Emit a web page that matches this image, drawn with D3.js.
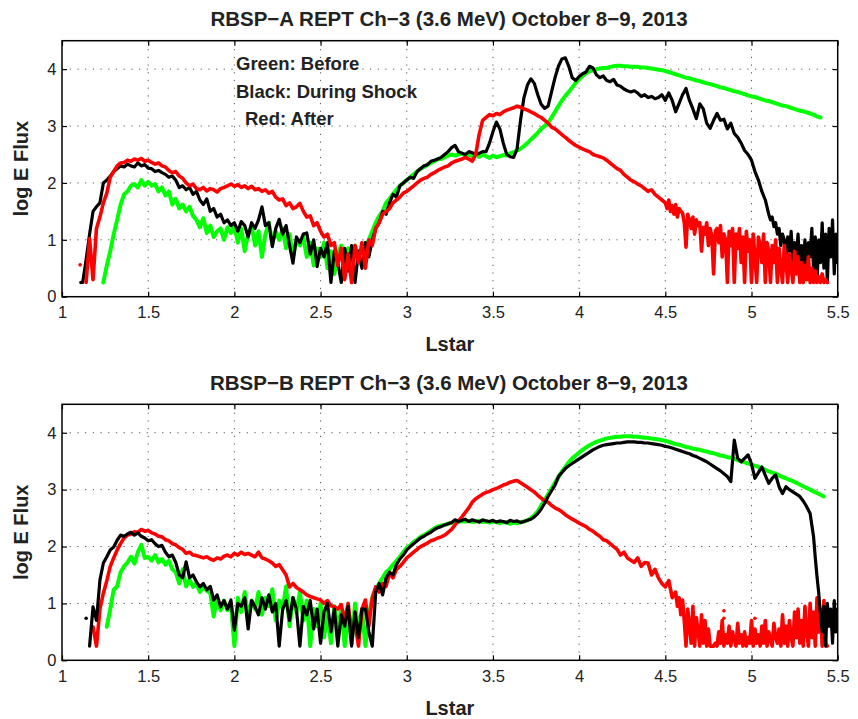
<!DOCTYPE html>
<html><head><meta charset="utf-8">
<script src="https://cdn.jsdelivr.net/npm/d3@7"></script>
<style>
body{margin:0;background:#fff}
svg{display:block}
text{font-family:"Liberation Sans",Arial,Helvetica,sans-serif;fill:#222}
</style>
</head><body>
<svg id="c" width="858" height="719"></svg>
<script>
// ---------- data ----------
const STEP = 0.02;        // Lstar sampling step of the main series
const STEP_FINE = 0.01;   // Lstar sampling step of the noisy tails
const lTicks = [1, 1.5, 2, 2.5, 3, 3.5, 4, 4.5, 5, 5.5];
const lTickLabels = ["1", "1.5", "2", "2.5", "3", "3.5", "4", "4.5", "5", "5.5"];
const fluxTicks = [0, 1, 2, 3, 4];
const titles = [
  "RBSP\u2212A REPT Ch\u22123 (3.6 MeV) October 8\u22129, 2013",
  "RBSP\u2212B REPT Ch\u22123 (3.6 MeV) October 8\u22129, 2013"
];
const legendLines = ["Green: Before", "Black: During Shock", "Red: After"];

// ===== RBSP-A =====
const greenAStart = 1.24;
const greenA = [
 0.25,0.55,0.8,1.1,1.35,1.62,1.8,1.85,1.95,1.98,
 1.92,2.05,1.95,2.02,1.95,1.98,1.85,1.92,1.78,1.85,
 1.62,1.72,1.55,1.62,1.5,1.58,1.42,1.35,1.22,1.38,
 1.12,1.25,1.05,1.15,1.2,1.0,1.22,1.12,1.25,0.95,
 1.2,0.8,1.1,1.25,0.9,1.15,0.7,1.1,1.3,0.95,
 1.15,1.0,1.2,0.85,1.1,0.7,1.0,0.9,1.05,0.7,
 0.95,0.55,0.85,0.7,0.95,0.5,0.8,0.4,0.75,0.9,
 0.5,0.85,0.6,0.9,0.7,0.55,0.85,1.0,1.15,1.3,
 1.42,1.5,1.65,1.72,1.8,1.88,1.95,2.0,2.05,2.1,
 2.15,2.2,2.25,2.28,2.32,2.35,2.38,2.42,2.42,2.45,
 2.48,2.5,2.48,2.5,2.52,2.48,2.5,2.47,2.5,2.46,
 2.5,2.47,2.44,2.48,2.45,2.47,2.49,2.48,2.52,2.54,
 2.57,2.6,2.65,2.7,2.76,2.82,2.88,2.95,3.0,3.06,
 3.15,3.25,3.35,3.45,3.53,3.6,3.68,3.76,3.82,3.88,
 3.93,3.96,3.98,4.0,4.01,4.02,4.02,4.04,4.05,4.06,
 4.06,4.05,4.05,4.04,4.04,4.04,4.03,4.03,4.02,4.01,
 4.0,3.99,3.98,3.97,3.95,3.93,3.91,3.89,3.87,3.85,
 3.84,3.82,3.8,3.79,3.77,3.75,3.74,3.72,3.70,3.68,
 3.67,3.65,3.63,3.61,3.6,3.58,3.56,3.54,3.52,3.51,
 3.49,3.47,3.45,3.44,3.42,3.4,3.38,3.36,3.35,3.33,
 3.31,3.29,3.27,3.26,3.24,3.22,3.2,3.17,3.15
];
const blackAStart = 1.12;
const blackA = [
 0.25,0.65,1.1,1.5,1.58,1.65,2.0,2.05,2.12,2.2,
 2.25,2.3,2.28,2.33,2.3,2.28,2.35,2.3,2.32,2.26,
 2.25,2.2,2.22,2.18,2.15,2.1,2.12,2.05,1.92,1.95,
 1.88,1.92,1.8,1.85,1.7,1.62,1.72,1.5,1.55,1.4,
 1.45,1.3,1.35,1.25,1.3,1.15,1.32,1.25,1.05,1.3,
 1.2,1.35,1.58,1.25,1.3,0.88,1.2,1.36,1.1,1.25,
 0.9,0.59,1.05,0.95,1.1,1.12,0.75,1.0,0.53,0.85,
 0.7,0.95,0.25,0.8,0.6,0.25,0.85,0.45,0.9,0.25,
 0.8,0.5,0.95,0.7,1.0,1.2,1.3,1.5,1.45,1.65,
 1.8,1.75,1.95,2.0,2.05,2.1,2.08,2.2,2.25,2.3,
 2.32,2.38,2.4,2.42,2.45,2.5,2.55,2.62,2.66,2.55,
 2.52,2.5,2.55,2.53,2.5,2.52,2.55,2.55,2.7,2.9,
 3.07,2.95,2.7,2.5,2.46,2.45,2.6,3.1,3.5,3.72,
 3.83,3.75,3.55,3.38,3.31,3.35,3.6,3.85,4.05,4.18,
 4.2,4.05,3.85,3.8,3.87,3.92,3.95,4.05,4.02,3.9,
 3.85,3.88,3.8,3.78,3.82,3.72,3.7,3.65,3.62,3.6,
 3.62,3.58,3.52,3.55,3.5,3.52,3.48,3.5,3.55,3.45,
 3.58,3.45,3.25,3.4,3.55,3.66,3.45,3.3,3.13,3.39,
 3.3,3.05,2.96,3.1,3.22,3.1,3.12,2.95,3.05,2.87,
 2.8,2.7,2.57,2.5,2.4,2.2,2.05,1.85,1.7
];
const blackATailStart = 5.10;
const blackATail = [
 1.45,1.35,1.4,1.23,1.3,1.1,1.2,0.9,1.1,1.0,
 0.7,1.05,0.8,1.15,0.55,0.95,0.7,1.1,0.5,0.9,
 0.6,1.0,0.35,0.95,0.7,1.2,0.45,1.05,0.25,1.0,
 0.6,1.3,0.5,1.1,0.25,1.2,0.7,1.35,0.4,1.1,
 0.6
];
const redAStart = 1.14;
const redA = [
 0.25,1.02,0.3,1.2,1.4,1.65,1.82,2.1,2.2,2.3,
 2.35,2.36,2.4,2.38,2.42,2.4,2.43,2.38,2.4,2.36,
 2.33,2.35,2.3,2.28,2.22,2.18,2.2,2.12,2.08,2.0,
 1.95,1.98,1.9,1.88,1.92,1.86,1.9,1.88,1.84,1.9,
 1.92,1.95,1.98,1.94,1.97,1.92,1.95,1.9,1.94,1.88,
 1.9,1.85,1.88,1.82,1.85,1.75,1.7,1.72,1.6,1.65,
 1.55,1.58,1.64,1.5,1.4,1.42,1.25,1.3,1.15,1.05,
 1.1,0.9,0.95,0.55,0.85,0.3,0.75,0.25,0.9,0.6,
 0.95,0.5,1.0,0.9,1.2,1.3,1.45,1.5,1.55,1.65,
 1.7,1.75,1.82,1.85,1.9,1.95,2.0,2.05,2.08,2.1,
 2.15,2.18,2.22,2.25,2.28,2.3,2.35,2.38,2.4,2.42,
 2.45,2.42,2.38,2.5,2.85,3.1,3.15,3.2,3.18,3.22,
 3.2,3.25,3.28,3.3,3.32,3.35,3.33,3.3,3.28,3.25,
 3.22,3.18,3.15,3.1,3.05,2.98,2.95,2.9,2.85,2.8,
 2.75,2.7,2.66,2.63,2.6,2.57,2.55,2.5,2.48,2.46,
 2.44,2.4,2.35,2.3,2.25,2.22,2.15,2.1,2.05,2.02,
 1.98,1.95,1.9,1.85,1.88,1.8,1.75,1.7
];
const redATailStart = 4.50;
const redATail = [
 1.65,1.55,1.7,1.5,1.6,1.45,1.62,1.4,1.55,1.5,
 1.47,1.3,0.87,1.45,1.35,1.2,1.4,1.1,1.35,1.25,
 1.3,0.8,1.22,1.1,1.3,0.9,1.2,1.05,0.4,1.15,
 1.2,0.95,1.25,0.7,1.1,1.0,0.25,1.15,0.9,1.2,
 0.25,1.1,0.85,1.2,0.6,1.05,0.25,1.15,0.8,1.0,
 0.25,1.1,0.7,0.25,1.05,0.9,0.6,1.1,0.25,0.95,
 0.8,0.25,0.9,0.6,1.0,0.25,0.85,0.5,0.25,0.9,
 0.6,0.25,0.75,0.5,0.25,0.8,0.4,0.7,0.25,0.6,
 0.25,0.55,0.3,0.7,0.25,0.5,0.25,0.45,0.25,0.35,
 0.25,0.4,0.25,0.3,0.25
];
const dotsA = [ {L:1.11, v:0.25, c:"#000000"}, {L:1.105, v:0.56, c:"#ff0000"} ];

// ===== RBSP-B =====
const greenBStart = 1.26;
const greenB = [
 0.59,0.9,1.24,1.3,1.55,1.65,1.72,1.82,1.7,1.9,
 2.03,1.8,1.82,1.75,1.85,1.72,1.78,1.68,1.75,1.6,
 1.55,1.35,1.6,1.3,1.42,1.29,1.35,1.2,1.3,1.22,
 1.18,0.77,1.1,0.88,1.05,0.88,1.0,0.25,1.1,0.85,
 1.2,0.75,1.05,0.9,1.2,0.8,1.1,0.95,1.25,0.7,
 1.05,0.9,1.3,0.6,1.1,0.85,1.2,0.7,1.05,0.25,
 0.9,0.6,1.0,0.4,0.85,0.3,0.95,0.55,0.9,0.25,
 0.8,0.3,1.0,0.5,0.9,0.25,0.8,1.1,1.25,1.35,
 1.45,1.55,1.6,1.68,1.75,1.82,1.9,1.98,2.02,2.08,
 2.12,2.17,2.2,2.24,2.28,2.32,2.35,2.37,2.38,2.4,
 2.42,2.44,2.43,2.45,2.44,2.45,2.43,2.44,2.45,2.43,
 2.44,2.42,2.44,2.43,2.41,2.43,2.42,2.4,2.42,2.41,
 2.43,2.44,2.46,2.5,2.55,2.62,2.72,2.82,2.92,3.02,
 3.12,3.22,3.32,3.4,3.48,3.55,3.6,3.65,3.7,3.74,
 3.78,3.81,3.84,3.86,3.88,3.9,3.91,3.92,3.93,3.93,
 3.94,3.94,3.94,3.93,3.93,3.92,3.91,3.91,3.9,3.89,
 3.88,3.87,3.86,3.84,3.82,3.8,3.79,3.77,3.75,3.74,
 3.72,3.71,3.7,3.68,3.67,3.65,3.64,3.62,3.6,3.59,
 3.57,3.56,3.54,3.52,3.5,3.48,3.46,3.44,3.42,3.4,
 3.37,3.35,3.32,3.3,3.28,3.25,3.22,3.2,3.17,3.15,
 3.12,3.09,3.06,3.03,3.0,2.97,2.94,2.91,2.88
];
const blackBStart = 1.16;
const blackB = [
 0.25,0.94,0.7,1.41,1.71,1.82,1.94,1.99,2.11,2.2,
 2.18,2.22,2.25,2.2,2.24,2.18,2.15,2.1,2.12,2.05,
 2.0,2.02,1.9,1.82,1.85,1.72,1.5,1.45,1.73,1.45,
 1.5,1.38,1.29,1.35,1.24,1.3,1.06,1.15,0.94,1.05,
 0.9,1.06,0.53,1.0,0.95,1.1,0.55,1.05,0.94,0.8,
 1.1,0.9,1.15,0.85,1.0,0.25,0.9,1.05,0.7,1.1,
 0.9,0.25,0.95,0.8,1.05,0.55,0.9,0.3,0.85,1.0,
 0.5,0.9,0.25,0.8,0.6,0.95,0.25,0.85,0.4,0.9,
 0.9,0.5,0.25,1.2,1.35,1.15,1.45,1.55,1.5,1.68,
 1.78,1.85,1.94,2.0,2.05,2.1,2.15,2.18,2.22,2.25,
 2.3,2.33,2.35,2.38,2.4,2.42,2.47,2.44,2.46,2.48,
 2.44,2.47,2.45,2.43,2.47,2.45,2.44,2.46,2.43,2.45,
 2.44,2.42,2.46,2.44,2.45,2.42,2.44,2.46,2.48,2.52,
 2.58,2.66,2.76,2.88,2.98,3.08,3.23,3.3,3.37,3.42,
 3.46,3.5,3.54,3.58,3.62,3.66,3.7,3.73,3.76,3.78,
 3.79,3.8,3.81,3.82,3.82,3.83,3.84,3.84,3.84,3.83,
 3.83,3.82,3.82,3.81,3.8,3.79,3.78,3.76,3.75,3.73,
 3.71,3.69,3.67,3.65,3.63,3.6,3.58,3.55,3.52,3.49,
 3.45,3.41,3.37,3.33,3.28,3.23,3.14,3.87,3.55,3.49,
 3.55,3.61,3.45,3.2,3.3,3.4,3.25,3.11,3.2,3.26,
 3.05,2.93,3.05,3.0,2.96,2.92,2.88,2.8,2.7,2.58
];
const blackBTailStart = 5.36;
const blackBTail = [2.17,1.8,1.47,1.18,0.8,0.5,0.95,0.25,1.0,0.6,0.9,0.3,1.05,0.5,0.9];
const redBStart = 1.18;
const redB = [
 0.59,0.25,0.9,1.18,1.4,1.65,1.8,1.94,2.05,2.15,
 2.2,2.22,2.26,2.25,2.3,2.27,2.28,2.24,2.22,2.18,
 2.17,2.12,2.1,2.05,2.03,1.98,1.95,1.88,1.9,1.85,
 1.84,1.82,1.8,1.82,1.78,1.76,1.8,1.78,1.83,1.85,
 1.82,1.88,1.85,1.9,1.86,1.88,1.85,1.82,1.9,1.8,
 1.78,1.75,1.71,1.65,1.68,1.59,1.5,1.29,1.35,1.28,
 1.24,1.2,1.15,1.12,1.1,1.08,1.06,1.0,1.05,0.96,
 0.94,0.9,0.98,0.7,1.0,0.5,0.65,0.25,0.9,1.06,
 0.6,1.1,1.29,1.2,1.35,1.3,1.53,1.45,1.6,1.65,
 1.72,1.8,1.85,1.9,1.95,2.0,2.03,2.06,2.1,2.12,
 2.15,2.17,2.2,2.25,2.3,2.38,2.45,2.52,2.6,2.68,
 2.78,2.84,2.88,2.92,2.95,2.97,3.0,3.02,3.05,3.08,
 3.1,3.13,3.15,3.16,3.12,3.08,3.04,3.0,2.96,2.9,
 2.85,2.8,2.78,2.72,2.68,2.65,2.61,2.56,2.52,2.48,
 2.45,2.41,2.38,2.35,2.3,2.27,2.22,2.18,2.12,2.1,
 2.05,2.0,1.95,1.85,1.9,1.8,1.76,1.72,1.8,1.65,
 1.72,1.71,1.5,1.6,1.45,1.35,1.29,1.4,1.1
];
const redBTailStart = 4.56;
const redBTail = [
 1.2,0.95,1.1,0.8,1.06,0.7,0.25,0.9,0.6,0.3,
 0.95,0.25,0.75,0.5,0.25,0.8,0.3,0.7,0.25,0.55,
 0.25,0.25,0.25,0.3,0.25,0.5,0.3,0.7,0.25,0.45,
 0.3,0.6,0.25,0.5,0.35,0.25,0.65,0.3,0.45,0.25,
 0.5,0.25,0.4,0.3,0.7,0.25,0.55,0.3,0.45,0.25,
 0.6,0.3,0.7,0.25,0.5,0.35,0.25,0.65,0.4,0.3,
 0.55,0.25,0.8,0.3,0.6,0.25,0.7,0.4,0.25,0.85,
 0.4,0.9,0.3,0.7,0.25,0.95,0.5,0.25,1.0,0.4,
 0.85,0.25,1.1,0.5,0.9,0.25,1.05,0.3,0.25
];
const dotsB = [ {L:1.14, v:0.74, c:"#000000"}, {L:4.84, v:0.87, c:"#ff0000"},
                {L:4.84, v:0.74, c:"#ff0000"}, {L:5.02, v:0.74, c:"#ff0000"} ];

// ---------- layout ----------
const GREEN = "#00ff00", BLACK = "#000000", RED = "#ff0000";
const seg = (start, step, v) => ({ start, step, v });
const panels = [
  { title: titles[0], top: 40.7, bottom: 296.7, titleY: 26, xlabY: 351, legend: true,
    series: [ {segs: [seg(greenAStart, STEP, greenA)], c: GREEN, w: 4.0},
              {segs: [seg(blackAStart, STEP, blackA), seg(blackATailStart, STEP_FINE, blackATail)], c: BLACK, w: 3.2},
              {segs: [seg(redAStart, STEP, redA), seg(redATailStart, STEP_FINE, redATail)], c: RED, w: 3.6} ],
    dots: dotsA },
  { title: titles[1], top: 404.3, bottom: 660.3, titleY: 390, xlabY: 715, legend: false,
    series: [ {segs: [seg(greenBStart, STEP, greenB)], c: GREEN, w: 4.0},
              {segs: [seg(redBStart, STEP, redB), seg(redBTailStart, STEP_FINE, redBTail)], c: RED, w: 3.6},
              {segs: [seg(blackBStart, STEP, blackB), seg(blackBTailStart, STEP_FINE, blackBTail)], c: BLACK, w: 3.2} ],
    dots: dotsB }
];
const X0 = 62, X1 = 837.7;
const svg = d3.select("#c");
const x = d3.scaleLinear().domain([1, 5.5]).range([X0, X1]);

panels.forEach((p, pi) => {
  const y = d3.scaleLinear().domain([0, 4.5]).range([p.bottom, p.top]);
  const g = svg.append("g");

  // grid (dotted)
  const grid = g.append("g").attr("stroke", "#555").attr("stroke-width", 1)
    .attr("stroke-dasharray", "1.2,6.5");
  lTicks.slice(1, -1).forEach(t => grid.append("line")
    .attr("x1", x(t)).attr("x2", x(t)).attr("y1", p.bottom).attr("y2", p.top));
  fluxTicks.slice(1).forEach(t => grid.append("line")
    .attr("x1", X0).attr("x2", X1).attr("y1", y(t)).attr("y2", y(t)));

  // clip
  const cid = "clip" + pi;
  svg.append("clipPath").attr("id", cid).append("rect")
    .attr("x", X0).attr("y", p.top).attr("width", X1 - X0).attr("height", p.bottom - p.top);

  const line = d3.line().x(d => x(d.L)).y(d => y(d.v));
  const lg = g.append("g").attr("clip-path", `url(#${cid})`);
  p.series.forEach(s => {
    const pts = s.segs.flatMap(sg => sg.v.map((v, i) => ({ L: sg.start + i * sg.step, v })));
    lg.append("path").datum(pts).attr("d", line)
      .attr("fill", "none").attr("stroke", s.c).attr("stroke-width", s.w)
      .attr("stroke-linejoin", "round").attr("stroke-linecap", "round");
  });
  lg.selectAll("circle.dot").data(p.dots).enter().append("circle")
    .attr("cx", d => x(d.L)).attr("cy", d => y(d.v)).attr("r", 1.8).attr("fill", d => d.c);

  // axes
  const fmt = (d) => lTickLabels[lTicks.indexOf(d)];
  const ax = g.append("g").attr("transform", `translate(0,${p.bottom})`)
    .call(d3.axisBottom(x).tickValues(lTicks).tickFormat(fmt).tickSizeInner(-5).tickSizeOuter(0).tickPadding(9.5));
  const ay = g.append("g").attr("transform", `translate(${X0},0)`)
    .call(d3.axisLeft(y).tickValues(fluxTicks).tickFormat(d3.format("d")).tickSizeInner(-5).tickSizeOuter(0).tickPadding(5.5));
  const at = g.append("g").attr("transform", `translate(0,${p.top})`)
    .call(d3.axisTop(x).tickValues(lTicks).tickFormat("").tickSizeInner(-5).tickSizeOuter(0));
  const ar = g.append("g").attr("transform", `translate(${X1},0)`)
    .call(d3.axisRight(y).tickValues(fluxTicks).tickFormat("").tickSizeInner(-5).tickSizeOuter(0));
  [ax, ay, at, ar].forEach(a => {
    a.select(".domain").remove();
    a.selectAll(".tick line").attr("stroke", "#000").attr("stroke-width", 1.2);
    a.selectAll("text").style("font-size", "16.5px").attr("fill", "#222");
  });
  g.append("rect").attr("x", X0).attr("y", p.top).attr("width", X1 - X0).attr("height", p.bottom - p.top)
    .attr("fill", "none").attr("stroke", "#000").attr("stroke-width", 1.5);

  // texts
  g.append("text").attr("x", 449).attr("y", p.titleY).attr("text-anchor", "middle")
    .style("font-size", "20.5px").style("font-weight", "bold").text(p.title);
  g.append("text").attr("x", (X0 + X1) / 2).attr("y", p.xlabY).attr("text-anchor", "middle")
    .style("font-size", "20px").style("font-weight", "bold").text("Lstar");
  g.append("text").attr("transform", `translate(28,${(p.top + p.bottom) / 2}) rotate(-90)`)
    .attr("text-anchor", "middle").style("font-size", "20px").style("font-weight", "bold").text("log E Flux");

  if (p.legend) {
    const lx = [236, 236, 245], ly = [70, 97.6, 125];
    legendLines.forEach((t, i) => g.append("text").attr("x", lx[i]).attr("y", ly[i])
      .style("font-size", "18.5px").style("font-weight", "bold").text(t));
  }
});
</script>
</body></html>
